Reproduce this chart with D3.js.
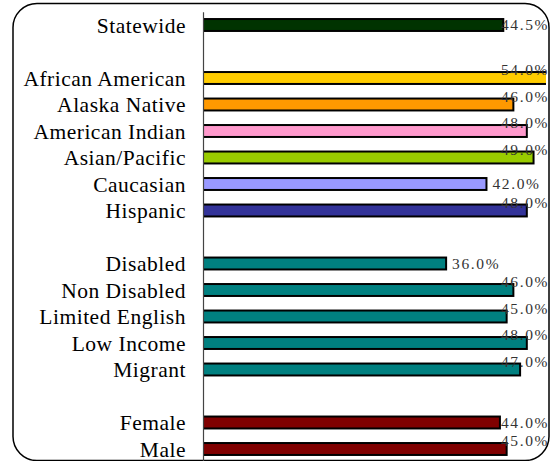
<!DOCTYPE html>
<html>
<head>
<meta charset="utf-8">
<script src="https://cdn.jsdelivr.net/npm/d3@7"></script>
<style>
  html, body { margin: 0; padding: 0; background: #fff; }
  svg { display: block; }
  .serif { font-family: "Liberation Serif", "Times New Roman", Times, serif; }
</style>
</head>
<body>
<script>
// ---- data (blank strings are spacer rows between groups) ----
const categories = ["Statewide", "", "African American", "Alaska Native", "American Indian",
  "Asian/Pacific", "Caucasian", "Hispanic", "", "Disabled", "Non Disabled",
  "Limited English", "Low Income", "Migrant", "", "Female", "Male"];
const values = [44.5, null, 54.0, 46.0, 48.0, 49.0, 42.0, 48.0, null, 36.0, 46.0,
  45.0, 48.0, 47.0, null, 44.0, 45.0];
const barColors = ["#003300", null, "#FFCC00", "#FF9900", "#FF99CC", "#99CC00", "#9999FF",
  "#333399", null, "#008080", "#008080", "#008080", "#008080", "#008080", null,
  "#800000", "#800000"];

const W = 553, H = 461;
const svg = d3.select("body").append("svg").attr("width", W).attr("height", H);

const rows = categories.map((c, i) => ({ i, cat: c, v: values[i], color: barColors[i] }));

const x = d3.scaleLinear().domain([0, 51]).range([204, 547]);
const y = d3.scaleBand().domain(rows.map(d => d.i)).range([11.75, 462.25])
  .paddingInner(0.55).paddingOuter(0.275);

// border
svg.append("rect")
  .attr("x", 13).attr("y", 3.5).attr("width", 536).attr("height", 457)
  .attr("rx", 24).attr("ry", 24)
  .attr("fill", "none").attr("stroke", "#000").attr("stroke-width", 1.5);

// clip for plot area
svg.append("clipPath").attr("id", "plotclip")
  .append("rect").attr("x", 203).attr("y", 0).attr("width", 343).attr("height", H);

const data = rows.filter(d => d.v != null);

// bars
svg.append("g").attr("clip-path", "url(#plotclip)")
  .selectAll("rect").data(data).join("rect")
  .attr("x", x(0) - 1)
  .attr("y", d => y(d.i))
  .attr("width", d => x(d.v) - x(0) + 1)
  .attr("height", y.bandwidth())
  .attr("fill", d => d.color)
  .attr("stroke", "#000").attr("stroke-width", 2);

// axis line (category axis, no ticks)
const yAxis = d3.axisLeft(y).tickSize(0).tickFormat(i => categories[i]);
const ag = svg.append("g").attr("transform", "translate(203,0)").call(yAxis);
ag.attr("font-family", null).attr("font-size", null);
ag.select(".domain").attr("stroke", "#444").attr("stroke-width", 1.2);
ag.selectAll(".tick text")
  .attr("class", "serif")
  .attr("x", -17)
  .attr("dy", "0.35em")
  .attr("font-size", 21.5)
  .attr("letter-spacing", 0.5)
  .attr("fill", "#000");

// value labels
const fmt = d => d.toFixed(1) + "%";
const lbl = svg.append("g").selectAll("text").data(data).join("text")
  .attr("class", "serif")
  .attr("font-size", 15.5)
  .attr("letter-spacing", 1.6)
  .attr("fill", "#333")
  .attr("dy", "0.35em")
  .text(d => fmt(d.v));

lbl.each(function (d) {
  const w = this.getComputedTextLength();
  const end = Math.min(x(d.v), 546);
  let tx = end + 6;
  let ty = y(d.i) + y.bandwidth() / 2;
  if (tx + w > 549) {
    tx = 549 - w;
    if (tx < end - 4) ty -= 8;
  }
  d3.select(this).attr("x", tx).attr("y", ty);
});
</script>
</body>
</html>
